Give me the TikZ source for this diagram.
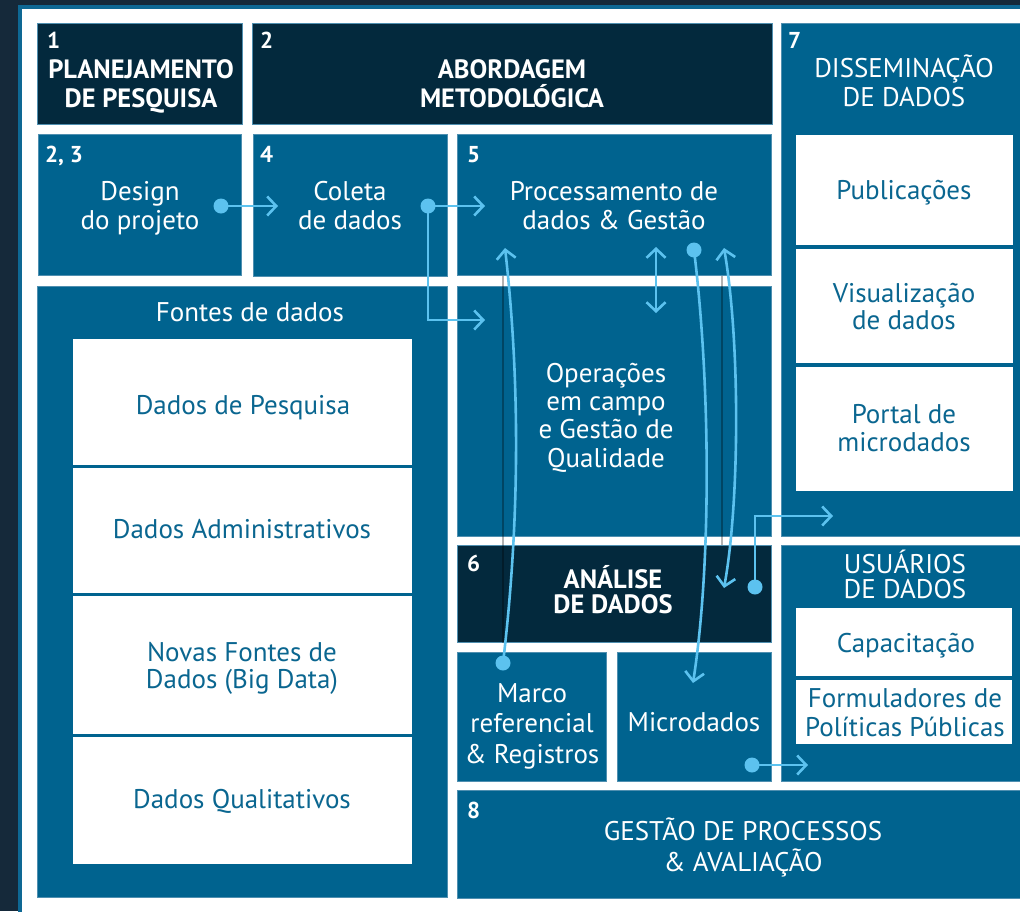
\documentclass[tikz,border=0pt]{standalone}
\usepackage{fontspec}
\setmainfont{PT Sans}
\usetikzlibrary{arrows.meta}
\definecolor{bgd}{HTML}{15293A}
\definecolor{frm}{HTML}{0E6894}
\definecolor{nav}{HTML}{03293D}
\definecolor{blu}{HTML}{00638F}
\definecolor{edg}{HTML}{4F8FB0}
\definecolor{lb}{HTML}{5CC2EF}
\definecolor{wtx}{HTML}{0A6690}
\newcommand\bx[7]{\node[#6, minimum width={(#4-#2)*1pt}, minimum height={(#5-#3)*1pt}] (#1) at ({(#2+#4)/2},{(#3+#5)/2}) {#7};}
\newcommand\tx[5]{\node[#4] (#1) at (#2,{#3-28}) {\rule{0pt}{28pt}#5};}
\begin{document}
\begin{tikzpicture}[x=1pt,y=-1pt,
  box/.style={draw=edg,line width=0.6pt,inner sep=0pt,outer sep=0pt},
  navybox/.style={box,fill=nav},
  bluebox/.style={box,fill=blu},
  whitebox/.style={fill=white,draw=blu,line width=0.8pt,inner sep=0pt,outer sep=0pt},
  txt/.style={anchor=north,align=center,inner sep=0pt,text=white,font=\fontsize{27}{29}\selectfont},
  btxt/.style={txt,font=\bfseries\fontsize{26.5}{29}\selectfont},
  wtxt/.style={txt,text=wtx},
  num/.style={anchor=base west,inner sep=0pt,text=white,font=\bfseries\fontsize{23}{23}\selectfont},
  arr/.style={draw=lb,line width=2.6pt,-{Straight Barb[length=9pt,width=19pt]}},
  darr/.style={draw=lb,line width=2.6pt,{Straight Barb[length=9pt,width=19pt]}-{Straight Barb[length=9pt,width=19pt]}},
  dot/.style={circle,fill=lb,inner sep=0pt,minimum size=15pt},
  shd/.style={draw=black,opacity=0.3,line width=2pt}]
\useasboundingbox (0,0) rectangle (1020,911);
% background and frame
\fill[bgd] (0,0) rectangle (1020,911);
\fill[frm] (18,5) rectangle (1030,920);
\fill[white] (22,9) rectangle (1030,920);
% boxes
\bx{b1}{37}{23}{242}{124}{navybox}{}
\bx{b2}{252}{23}{772}{124}{navybox}{}
\bx{b7}{781}{23}{1026}{536}{bluebox}{}
\bx{b23}{38}{134}{241}{275}{bluebox}{}
\bx{b4}{253}{134}{447}{276}{bluebox}{}
\bx{b5}{457}{134}{771}{275}{bluebox}{}
\bx{bf}{37}{286}{447}{897}{bluebox}{}
\bx{bop}{457}{286}{771}{536}{bluebox}{}
\bx{b6}{457}{545}{771}{642}{navybox}{}
\bx{bm}{457}{652}{606}{781}{bluebox}{}
\bx{bmi}{617}{652}{771}{781}{bluebox}{}
\bx{bu}{781}{545}{1026}{781}{bluebox}{}
\bx{b8}{457}{790}{1026}{898}{bluebox}{}
\bx{wpub}{795}{134}{1013}{245}{whitebox}{}
\bx{wvis}{795}{248}{1013}{363}{whitebox}{}
\bx{wpor}{795}{366}{1013}{491}{whitebox}{}
\bx{wdp}{72}{338}{412}{465}{whitebox}{}
\bx{wda}{72}{467}{412}{593}{whitebox}{}
\bx{wnf}{72}{595}{412}{734}{whitebox}{}
\bx{wdq}{72}{736}{412}{864}{whitebox}{}
\bx{wcap}{795}{607}{1012}{676}{whitebox}{}
\bx{wfor}{795}{679}{1012}{744}{whitebox}{}
% faint shadows of the curved connectors
\coordinate (s1a) at (503,276); \coordinate (s1b) at (503,643);
\coordinate (s2a) at (722,276); \coordinate (s2b) at (722,545);
\draw[shd] (s1a) -- (s1b);
\draw[shd] (s2a) -- (s2b);
% texts
\tx{t1}{141}{78}{btxt}{PLANEJAMENTO\\DE PESQUISA}
\tx{t2}{512}{78}{btxt}{ABORDAGEM\\METODOLÓGICA}
\tx{t7}{904}{77}{txt}{DISSEMINAÇÃO\\DE DADOS}
\tx{t23}{140}{200}{txt}{Design\\do projeto}
\tx{t4}{350}{200}{txt}{Coleta\\de dados}
\tx{t5}{614}{200}{txt}{Processamento de\\dados \& Gestão}
\tx{tf}{250}{321}{txt}{Fontes de dados}
\tx{tdp}{243}{414}{wtxt}{Dados de Pesquisa}
\tx{tda}{242}{538}{wtxt}{Dados Administrativos}
\tx{tnf}{242}{661}{wtxt,font=\fontsize{27}{27}\selectfont}{Novas Fontes de\\Dados (Big Data)}
\tx{tdq}{242}{808}{wtxt}{Dados Qualitativos}
\tx{top}{606}{382}{txt,font=\fontsize{27}{28.3}\selectfont}{Operações\\em campo\\e Gestão de\\Qualidade}
\tx{t6}{613}{588}{btxt,font=\bfseries\fontsize{26.5}{25}\selectfont}{ANÁLISE\\DE DADOS}
\tx{tu}{905}{573}{txt,font=\fontsize{27}{25}\selectfont}{USUÁRIOS\\DE DADOS}
\tx{tcap}{906}{652}{wtxt}{Capacitação}
\tx{tfor}{905}{707}{wtxt}{Formuladores de\\Políticas Públicas}
\tx{tm}{532}{702}{txt,font=\fontsize{27}{30.5}\selectfont}{Marco\\referencial\\\& Registros}
\tx{tmi}{694}{731}{txt}{Microdados}
\tx{t8}{743}{840}{txt,font=\fontsize{27}{31}\selectfont}{GESTÃO DE PROCESSOS\\\& AVALIAÇÃO}
\tx{tpub}{904}{199}{wtxt}{Publicações}
\tx{tvis}{904}{302}{wtxt,font=\fontsize{27}{27}\selectfont}{Visualização\\de dados}
\tx{tpor}{904}{423}{wtxt,font=\fontsize{27}{28}\selectfont}{Portal de\\microdados}
% numbers
\node[num] (n1) at (47,48) {1};
\node[num] (n2) at (260,48) {2};
\node[num] (n7) at (788,48) {7};
\node[num] (n23) at (45,162) {2, 3};
\node[num] (n4) at (260,162) {4};
\node[num] (n5) at (467,162) {5};
\node[num] (n6) at (467,571) {6};
\node[num] (n8) at (467,818) {8};
% connectors
\node[dot] (p1) at (221,206) {};
\coordinate (a1) at (278,206);
\draw[arr] (p1.center) -- (a1);
\node[dot] (p2) at (428,206) {};
\coordinate (a2) at (485,206);
\coordinate (k2) at (428,320);
\coordinate (a3) at (485,320);
\draw[arr] (p2.center) -- (a2);
\draw[arr] (p2.center) -- (k2) -- (a3);
\node[dot] (p4) at (503,663) {};
\coordinate (a4) at (505,248);
\draw[arr] (p4.center) .. controls (520,520) and (520,380) .. (a4);
\coordinate (a5) at (656,247);
\coordinate (a5b) at (656,313);
\draw[darr] (a5) -- (a5b);
\node[dot] (p6) at (694,250) {};
\coordinate (a6) at (693,683);
\draw[arr] (p6.center) .. controls (710,380) and (712,560) .. (a6);
\coordinate (a7) at (724,248);
\coordinate (a7b) at (724,588);
\draw[darr] (a7) .. controls (740,340) and (740,500) .. (a7b);
\node[dot] (p8) at (755,587) {};
\coordinate (k8) at (755,516);
\coordinate (a8) at (833,516);
\draw[arr] (p8.center) -- (k8) -- (a8);
\node[dot] (p9) at (752,765) {};
\coordinate (a9) at (808,765);
\draw[arr] (p9.center) -- (a9);
\end{tikzpicture}
\end{document}
